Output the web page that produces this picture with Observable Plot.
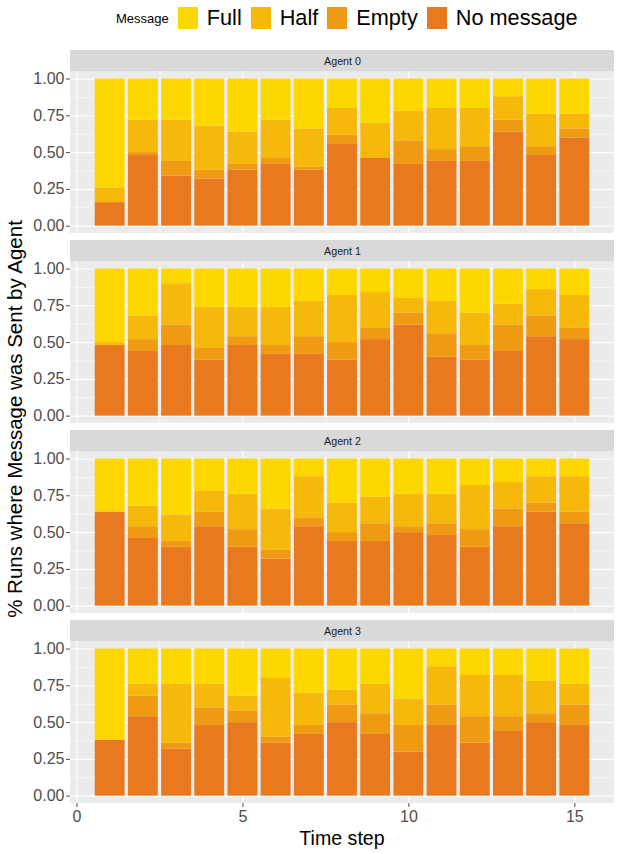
<!DOCTYPE html>
<html>
<head>
<meta charset="utf-8">
<script src="https://cdn.jsdelivr.net/npm/d3@7"></script>
<script src="https://cdn.jsdelivr.net/npm/@observablehq/plot@0.6"></script>
<style>
  body { margin: 0; background: #fff; font-family: "Liberation Sans", Arial, sans-serif; }
  #wrap { position: relative; width: 617px; height: 854px; }
  #legend { position: absolute; left: 116px; top: 7px; height: 22px; display: flex; align-items: center; gap: 9px; }
  #legend .title { font-size: 13px; color: #000; }
  #legend .key { width: 20px; height: 22px; }
  #legend .lab { font-size: 21.7px; color: #000; }
  #chart { position: absolute; left: 0; top: 40px; }
  .ytitle { position: absolute; left: 15px; top: 419px; transform: translate(-50%, -50%) rotate(-90deg); white-space: nowrap; font-size: 20.5px; color: #000; }
  .xtitle { position: absolute; left: 342px; top: 838px; transform: translate(-50%, -50%); white-space: nowrap; font-size: 19.6px; color: #000; }
</style>
</head>
<body>
<div id="wrap">
  <div id="legend"></div>
  <div id="chart"></div>
  <div class="ytitle">% Runs where Message was Sent by Agent</div>
  <div class="xtitle">Time step</div>
</div>
<script>
// Share of runs in which each agent sent each kind of message, per time step
const agents = ["Agent 0", "Agent 1", "Agent 2", "Agent 3"];
const timeSteps = [1, 2, 3, 4, 5, 6, 7, 8, 9, 10, 11, 12, 13, 14, 15];
const messages = ["Full", "Half", "Empty", "No message"];   // legend order (top of stack first)
const stackOrder = ["No message", "Empty", "Half", "Full"]; // bottom to top
const messageColors = ["#FFD700", "#F5B80B", "#EF9A13", "#E8791E"];

const noMessage = [
  [0.16, 0.48, 0.34, 0.32, 0.38, 0.42, 0.38, 0.56, 0.46, 0.42, 0.44, 0.44, 0.64, 0.48, 0.60],
  [0.48, 0.44, 0.48, 0.38, 0.48, 0.42, 0.42, 0.38, 0.52, 0.62, 0.40, 0.38, 0.44, 0.54, 0.52],
  [0.64, 0.46, 0.40, 0.54, 0.40, 0.32, 0.54, 0.44, 0.44, 0.50, 0.48, 0.40, 0.54, 0.64, 0.56],
  [0.38, 0.54, 0.32, 0.48, 0.50, 0.36, 0.42, 0.50, 0.42, 0.30, 0.48, 0.36, 0.44, 0.50, 0.48]
];
const empty = [
  [0.00, 0.02, 0.10, 0.06, 0.04, 0.04, 0.02, 0.06, 0.00, 0.16, 0.08, 0.10, 0.08, 0.06, 0.06],
  [0.00, 0.08, 0.14, 0.08, 0.06, 0.06, 0.12, 0.12, 0.08, 0.08, 0.16, 0.10, 0.18, 0.14, 0.08],
  [0.00, 0.08, 0.04, 0.10, 0.12, 0.06, 0.06, 0.06, 0.12, 0.04, 0.08, 0.12, 0.12, 0.06, 0.08],
  [0.00, 0.14, 0.04, 0.12, 0.08, 0.04, 0.06, 0.12, 0.14, 0.18, 0.14, 0.18, 0.10, 0.06, 0.14]
];
const half = [
  [0.10, 0.22, 0.28, 0.30, 0.22, 0.26, 0.26, 0.18, 0.24, 0.20, 0.28, 0.26, 0.16, 0.22, 0.10],
  [0.02, 0.16, 0.28, 0.28, 0.20, 0.26, 0.24, 0.32, 0.24, 0.10, 0.22, 0.22, 0.14, 0.18, 0.22],
  [0.00, 0.14, 0.18, 0.14, 0.24, 0.28, 0.28, 0.20, 0.18, 0.22, 0.20, 0.30, 0.18, 0.18, 0.24],
  [0.00, 0.08, 0.40, 0.16, 0.10, 0.40, 0.22, 0.10, 0.20, 0.18, 0.26, 0.28, 0.28, 0.22, 0.14]
];
const full = [
  [0.74, 0.28, 0.28, 0.32, 0.36, 0.28, 0.34, 0.20, 0.30, 0.22, 0.20, 0.20, 0.12, 0.24, 0.24],
  [0.50, 0.32, 0.10, 0.26, 0.26, 0.26, 0.22, 0.18, 0.16, 0.20, 0.22, 0.30, 0.24, 0.14, 0.18],
  [0.36, 0.32, 0.38, 0.22, 0.24, 0.34, 0.12, 0.30, 0.26, 0.24, 0.24, 0.18, 0.16, 0.12, 0.12],
  [0.62, 0.24, 0.24, 0.24, 0.32, 0.20, 0.30, 0.28, 0.24, 0.34, 0.12, 0.18, 0.18, 0.22, 0.24]
];

const yTicks = [0, 0.25, 0.5, 0.75, 1];
const yMinor = [0.125, 0.375, 0.625, 0.875];
const xTicks = [0, 5, 10, 15];
const xMinor = [2.5, 7.5, 12.5];

// Long table, stacked bottom-up in stackOrder
const seriesByMessage = {"No message": noMessage, "Empty": empty, "Half": half, "Full": full};
const rows = [];
agents.forEach((agent, a) => {
  timeSteps.forEach((t, i) => {
    let base = 0;
    for (const m of stackOrder) {
      const v = seriesByMessage[m][a][i];
      rows.push({agent, t, message: m, value: v, y1: base, y2: base + v});
      base += v;
    }
  });
});

// Panel extent (ggplot-style 5% expansion) and strip band above each panel
const xDomain = [-0.195, 16.195];
const panelY = [-0.05, 1.05];
const stripTop = 1.194;
const barHalf = 0.45;

const chart = Plot.plot({
  width: 617,
  height: 814,
  marginLeft: 70,
  marginRight: 3,
  marginTop: 8.3,
  marginBottom: 49.3,
  style: {fontFamily: "'Liberation Sans', Arial, sans-serif", background: "transparent"},
  x: {domain: xDomain},
  y: {domain: [panelY[0], stripTop]},
  fy: {domain: agents, paddingInner: 0.0346, paddingOuter: 0, axis: null, label: null},
  color: {domain: messages, range: messageColors},
  marks: [
    // panel background
    Plot.rect([0], {x1: xDomain[0], x2: xDomain[1], y1: panelY[0], y2: panelY[1], fill: "#EBEBEB"}),
    // minor and major grid
    Plot.ruleY(yMinor, {x1: xDomain[0], x2: xDomain[1], stroke: "#fff", strokeWidth: 0.55}),
    Plot.ruleX(xMinor, {y1: panelY[0], y2: panelY[1], stroke: "#fff", strokeWidth: 0.55}),
    Plot.ruleY(yTicks, {x1: xDomain[0], x2: xDomain[1], stroke: "#fff", strokeWidth: 1.1}),
    Plot.ruleX(xTicks, {y1: panelY[0], y2: panelY[1], stroke: "#fff", strokeWidth: 1.1}),
    // strip header
    Plot.rect(agents, {fy: d => d, x1: xDomain[0], x2: xDomain[1], y1: panelY[1], y2: stripTop, fill: "#D9D9D9"}),
    Plot.text(agents, {fy: d => d, x: (xDomain[0] + xDomain[1]) / 2, y: (panelY[1] + stripTop) / 2, text: d => d, fontSize: 10.7, fill: "#1A1A1A"}),
    // stacked bars
    Plot.rect(rows, {
      fy: "agent",
      x1: d => d.t - barHalf,
      x2: d => d.t + barHalf,
      y1: "y1",
      y2: "y2",
      fill: "message"
    }),
    Plot.axisY({ticks: yTicks, tickFormat: d => d.toFixed(2), tickSize: 4, tickPadding: 2, fontSize: 16, color: "#4D4D4D", label: null}),
    Plot.axisX({ticks: xTicks, tickSize: 4, tickPadding: 3, fontSize: 16, color: "#4D4D4D", label: null})
  ]
});
document.getElementById("chart").appendChild(chart);

// Legend
const legend = document.getElementById("legend");
const title = document.createElement("span");
title.className = "title";
title.textContent = "Message";
legend.appendChild(title);
messages.forEach((m, i) => {
  const key = document.createElement("span");
  key.className = "key";
  key.style.background = messageColors[i];
  legend.appendChild(key);
  const lab = document.createElement("span");
  lab.className = "lab";
  lab.textContent = m;
  legend.appendChild(lab);
});
</script>
</body>
</html>
